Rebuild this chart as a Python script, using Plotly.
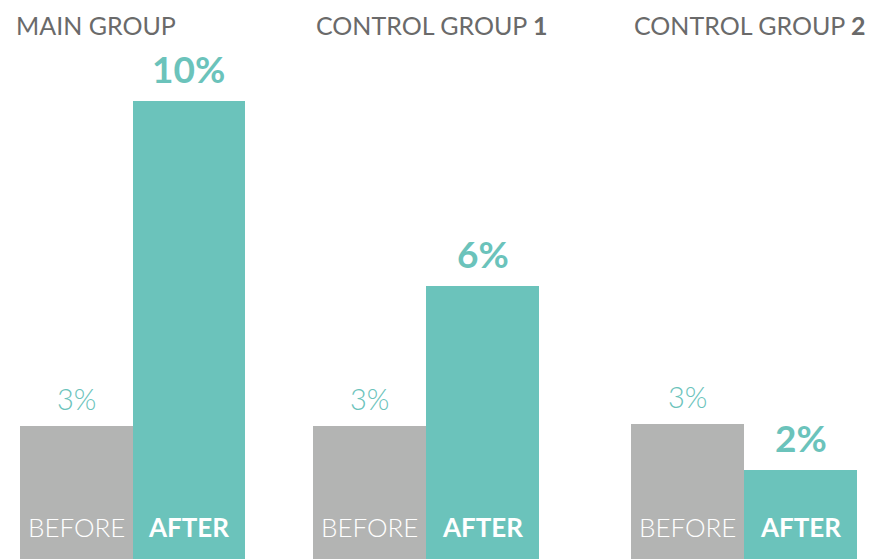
import plotly.graph_objects as go

groups = ["MAIN GROUP", "CONTROL GROUP <b>1</b>", "CONTROL GROUP <b>2</b>"]
categories = ["BEFORE", "AFTER"]
before_values = [2.9, 2.9, 2.95]
after_values = [10.0, 5.95, 1.95]
before_labels = ["3%", "3%", "3%"]
after_labels = ["10%", "6%", "2%"]

W, H = 872, 559
GRAY = "#b3b4b3"
TEAL = "#6bc3bb"
FONT = "Lato"

domains_px = [(20, 245), (313, 539), (631, 857)]
title_shift = [-6, 1, 1]

fig = go.Figure()
annotations = []
for i in range(3):
    xa = "x" if i == 0 else f"x{i+1}"
    ya = "y" if i == 0 else f"y{i+1}"
    fig.add_trace(go.Bar(
        x=categories, y=[before_values[i], after_values[i]],
        marker=dict(color=[GRAY, TEAL], line=dict(width=0)),
        xaxis=xa, yaxis=ya, showlegend=False, hoverinfo="skip",
    ))
    d = domains_px[i]
    ax_layout = dict(domain=[d[0] / W, d[1] / W], showgrid=False, zeroline=False,
                     showticklabels=False, showline=False, ticks="", fixedrange=True)
    ay_layout = dict(range=[0, 12.2], showgrid=False, zeroline=False,
                     showticklabels=False, showline=False, ticks="", fixedrange=True,
                     domain=[0, 1])
    if i > 0:
        ax_layout["anchor"] = ya
        ay_layout["anchor"] = xa
    fig.layout[("xaxis" if i == 0 else f"xaxis{i+1}")] = ax_layout
    fig.layout[("yaxis" if i == 0 else f"yaxis{i+1}")] = ay_layout

    # group title
    annotations.append(dict(
        text=groups[i], xref=f"{xa} domain", yref="paper", x=0, y=1,
        xanchor="left", yanchor="top", xshift=title_shift[i], yshift=-8, showarrow=False,
        font=dict(family=FONT, size=25, color="#6a6a6a"),
    ))
    # value labels
    annotations.append(dict(
        text=before_labels[i], xref=xa, yref=ya, x=categories[0], y=before_values[i],
        xanchor="center", yanchor="bottom", yshift=8, showarrow=False,
        font=dict(family=FONT, size=29, color=TEAL, weight=300),
    ))
    annotations.append(dict(
        text="<b>" + after_labels[i] + "</b>", xref=xa, yref=ya, x=categories[1], y=after_values[i],
        xanchor="center", yanchor="bottom", yshift=8, showarrow=False,
        font=dict(family=FONT, size=37, color=TEAL),
    ))
    # category labels
    annotations.append(dict(
        text=categories[0], xref=xa, yref=ya, x=categories[0], y=0,
        xanchor="center", yanchor="bottom", yshift=14, showarrow=False,
        font=dict(family=FONT, size=26, color="white", weight=300),
    ))
    annotations.append(dict(
        text="<b>" + categories[1] + "</b>", xref=xa, yref=ya, x=categories[1], y=0,
        xanchor="center", yanchor="bottom", yshift=14, showarrow=False,
        font=dict(family=FONT, size=26, color="white"),
    ))

fig.update_layout(
    width=W, height=H, margin=dict(l=0, r=0, t=0, b=0),
    paper_bgcolor="white", plot_bgcolor="white",
    bargap=0, annotations=annotations,
)
fig.write_html("out.html", config={"displayModeBar": False},
               post_script="document.body.style.margin='0px';")
